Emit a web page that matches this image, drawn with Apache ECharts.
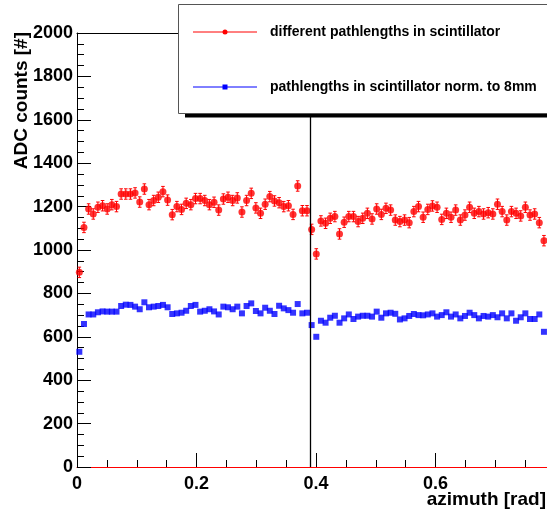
<!DOCTYPE html>
<html>
<head>
<meta charset="utf-8">
<script src="https://cdn.jsdelivr.net/npm/echarts@6/dist/echarts.min.js"></script>
<style>
html,body{margin:0;padding:0;background:#fff;}
#chart{width:547px;height:516px;}
</style>
</head>
<body>
<div id="chart"></div>
<script>
// ---- data ----
const binCount = 101;                 // bins over [0, pi/4]
const xMax = Math.PI / 4;
const binWidth = xMax / binCount;
const redCounts = [
 897,1104,1189,1166,1197,1204,1189,1209,1200,1258,
 1258,1258,1263,1221,1281,1209,1228,1243,1269,1230,
 1163,1200,1187,1215,1209,1237,1237,1228,1209,1220,
 1184,1235,1243,1228,1240,1175,1228,1261,1194,1169,
 1211,1246,1226,1218,1200,1204,1164,1295,1181,1181,
 1095,982,1134,1123,1146,1154,1074,1128,1154,1154,
 1131,1146,1169,1143,1189,1164,1192,1184,1138,1131,
 1138,1126,1177,1200,1151,1187,1203,1197,1141,1169,
 1151,1184,1138,1161,1197,1169,1177,1166,1172,1166,
 1211,1177,1138,1177,1169,1157,1197,1161,1166,1126,
 1043
];
const blueCounts = [
 531,659,703,703,713,717,716,716,716,742,
 748,747,739,727,759,736,739,742,747,736,
 705,708,711,720,742,747,716,720,727,717,
 703,739,736,727,739,708,742,754,719,708,
 734,720,705,743,731,723,711,751,708,711,
 654,600,674,665,688,697,665,685,703,682,
 693,697,697,693,716,688,708,711,706,680,
 685,696,705,700,699,703,708,693,700,713,
 693,703,685,696,711,700,685,696,693,700,
 690,708,685,708,674,690,708,682,682,703,
 623
];
const redErr = 24;
const xTicks = [0, 0.2, 0.4, 0.6];
const yMax = 2000;
const seriesNames = ['different pathlengths in scintillator', 'pathlengths in scintillator norm. to 8mm'];
const xTitle = 'azimuth [rad]';
const yTitle = 'ADC counts [#]';

// ---- chart ----
const FONT = 'Liberation Sans, Arial, Helvetica, sans-serif';
const redData = redCounts.map((v, i) => [(i + 0.5) * binWidth, v]);
const blueData = blueCounts.map((v, i) => [(i + 0.5) * binWidth, v]);

const chart = echarts.init(document.getElementById('chart'), null, {renderer: 'canvas'});
const option = {
  animation: false,
  backgroundColor: '#fff',
  grid: {left: 77, top: 33, width: 0.8 * 597.5, height: 434, containLabel: false, outerBoundsMode: 'none'},
  xAxis: [{
    type: 'value', min: 0, max: 0.8, interval: 0.2, position: 'bottom',
    axisLine: {show: true, lineStyle: {color: '#ff0000', width: 1}},
    axisTick: {show: true, inside: true, length: 14, lineStyle: {color: '#000'}},
    minorTick: {show: true, splitNumber: 4, length: 7, lineStyle: {color: '#000'}},
    splitLine: {show: false},
    axisLabel: {
      fontSize: 18, fontWeight: 'bold', color: '#000', fontFamily: FONT, margin: 8,
      formatter: v => (xTicks.indexOf(Math.round(v * 10) / 10) >= 0 && v < 0.7) ? (v === 0 ? '0' : v.toFixed(1)) : ''
    }
  }, {
    type: 'value', min: 0, max: 0.8, position: 'top',
    axisLine: {show: true, lineStyle: {color: '#000', width: 1}},
    axisTick: {show: false}, axisLabel: {show: false}, splitLine: {show: false}
  }],
  yAxis: [{
    type: 'value', min: 0, max: yMax, interval: 200,
    axisLine: {show: true, lineStyle: {color: '#000', width: 1}},
    axisTick: {show: true, inside: true, length: 14, lineStyle: {color: '#000'}},
    minorTick: {show: true, splitNumber: 4, length: 7, lineStyle: {color: '#000'}},
    splitLine: {show: false},
    axisLabel: {fontSize: 18, fontWeight: 'bold', color: '#000', fontFamily: FONT, margin: 4,
      formatter: v => String(v)}
  }],
  series: [
    {
      type: 'custom', name: seriesNames[0] + ' errors', data: redData, z: 3,
      renderItem: function (params, api) {
        const x = api.value(0), y = api.value(1);
        const t = api.coord([x, y + redErr]);
        const b = api.coord([x, y - redErr]);
        const c = 1.8;
        const st = {stroke: '#ff0000', lineWidth: 1};
        return {type: 'group', children: [
          {type: 'line', shape: {x1: t[0], y1: t[1], x2: b[0], y2: b[1]}, style: st},
          {type: 'line', shape: {x1: t[0] - c, y1: t[1], x2: t[0] + c, y2: t[1]}, style: st},
          {type: 'line', shape: {x1: b[0] - c, y1: b[1], x2: b[0] + c, y2: b[1]}, style: st}
        ]};
      }
    },
    {
      type: 'scatter', name: seriesNames[0], data: redData, symbol: 'circle', symbolSize: 7,
      itemStyle: {color: '#ff0000'}, z: 4,
      markLine: {
        silent: true, symbol: 'none', label: {show: false},
        data: [
          {xAxis: Math.PI / 8, lineStyle: {color: '#000', width: 1.3, type: 'solid'}},
          {xAxis: xMax, lineStyle: {color: '#ff3030', width: 1.5, type: 'solid'}}
        ]
      }
    },
    {
      type: 'scatter', name: seriesNames[1], data: blueData, symbol: 'rect', symbolSize: 6,
      itemStyle: {color: '#0000ff'}, z: 4
    }
  ],
  graphic: [
    {type: 'rect', z: 100, shape: {x: 185, y: 8, width: 420, height: 109.5}, style: {fill: '#000'}},
    {type: 'rect', z: 101, shape: {x: 178.5, y: 4.5, width: 420, height: 109}, style: {fill: '#fff', stroke: '#555', lineWidth: 1}},
    {type: 'line', z: 102, shape: {x1: 193, y1: 32, x2: 257, y2: 32}, style: {stroke: '#ff0000', lineWidth: 1}},
    {type: 'circle', z: 102, shape: {cx: 225, cy: 32, r: 2.5}, style: {fill: '#ff0000'}},
    {type: 'text', z: 102, x: 270, y: 32, style: {text: seriesNames[0], font: 'bold 14px ' + FONT, fill: '#000', verticalAlign: 'middle', align: 'left'}},
    {type: 'line', z: 102, shape: {x1: 193, y1: 87, x2: 257, y2: 87}, style: {stroke: '#0000ff', lineWidth: 1}},
    {type: 'rect', z: 102, shape: {x: 222.5, y: 84.5, width: 5, height: 5}, style: {fill: '#0000ff'}},
    {type: 'text', z: 102, x: 270, y: 87, style: {text: seriesNames[1], font: 'bold 14px ' + FONT, fill: '#000', verticalAlign: 'middle', align: 'left'}},
    {type: 'text', z: 102, x: 546, y: 500, style: {text: xTitle, font: 'bold 19px ' + FONT, fill: '#000', verticalAlign: 'middle', align: 'right'}},
    {type: 'text', z: 102, x: 22, y: 32, rotation: Math.PI / 2, style: {text: yTitle, font: 'bold 19px ' + FONT, fill: '#000', verticalAlign: 'middle', align: 'right'}}
  ]
};
chart.setOption(option);
</script>
</body>
</html>
